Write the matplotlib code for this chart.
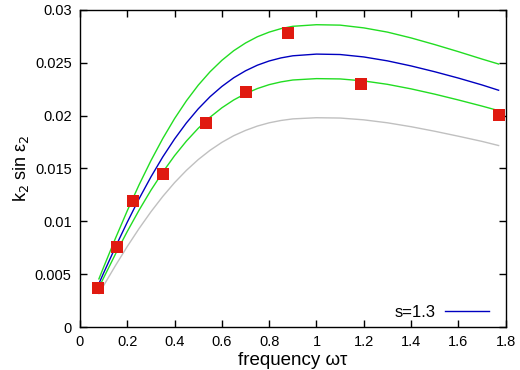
import matplotlib
matplotlib.use("Agg")
import matplotlib.pyplot as plt

plt.rcParams["font.family"] = ["Liberation Sans", "DejaVu Sans"]

# model curves
freq = [0.08, 0.1, 0.15, 0.2, 0.25, 0.3, 0.35, 0.4, 0.45, 0.5, 0.55, 0.6,
        0.65, 0.7, 0.75, 0.8, 0.85, 0.9, 1.0, 1.1, 1.2, 1.3, 1.4, 1.5,
        1.6, 1.7, 1.77]
blue = [0.00410, 0.00511, 0.00757, 0.00992, 0.01214, 0.01420, 0.01609,
        0.01779, 0.01931, 0.02064, 0.02179, 0.02276, 0.02358, 0.02424,
        0.02477, 0.02517, 0.02546, 0.02566, 0.02582, 0.02578, 0.02555,
        0.02518, 0.02470, 0.02415, 0.02355, 0.02290, 0.02240]
green_hi = [0.00455, 0.00566, 0.00839, 0.01100, 0.01346, 0.01574, 0.01783,
            0.01972, 0.02140, 0.02288, 0.02415, 0.02523, 0.02614, 0.02687,
            0.02746, 0.02790, 0.02823, 0.02845, 0.02860, 0.02856, 0.02830,
            0.02790, 0.02735, 0.02672, 0.02605, 0.02535, 0.02488]
green_lo = [0.00374, 0.00465, 0.00690, 0.00904, 0.01106, 0.01294, 0.01465,
            0.01621, 0.01759, 0.01880, 0.01985, 0.02074, 0.02148, 0.02208,
            0.02256, 0.02293, 0.02319, 0.02337, 0.02350, 0.02347, 0.02328,
            0.02296, 0.02253, 0.02203, 0.02148, 0.02090, 0.02047]
gray = [0.00315, 0.00392, 0.00581, 0.00762, 0.00932, 0.01090, 0.01235,
        0.01366, 0.01482, 0.01584, 0.01672, 0.01747, 0.01810, 0.01860,
        0.01901, 0.01932, 0.01954, 0.01969, 0.01980, 0.01977, 0.01960,
        0.01932, 0.01895, 0.01852, 0.01805, 0.01756, 0.01717]

# measured points
obs_x = [0.075, 0.158, 0.226, 0.350, 0.534, 0.702, 0.881, 1.189, 1.773]
obs_y = [0.0037, 0.00758, 0.0119, 0.01443, 0.01934, 0.0222, 0.02777, 0.0230, 0.02007]

fig = plt.figure(figsize=(5.2, 3.7), dpi=100)
ax = fig.add_axes([0.1538, 0.1162, 0.8187, 0.857])

ax.plot(freq, gray, color="#c0c0c0", lw=1.0)
ax.plot(freq, green_lo, color="#22dd22", lw=1.0)
ax.plot(freq, green_hi, color="#22dd22", lw=1.0)
ax.plot(freq, blue, color="#0000c0", lw=1.0, label="s=1.3")
ax.plot(obs_x, obs_y, "s", color="#e01a10", markersize=9, markeredgewidth=0)

ax.set_xlim(0, 1.8)
ax.set_ylim(0, 0.03)
ax.set_xticks([0, 0.2, 0.4, 0.6, 0.8, 1, 1.2, 1.4, 1.6, 1.8])
ax.set_xticklabels(["0", "0.2", "0.4", "0.6", "0.8", "1", "1.2", "1.4", "1.6", "1.8"])
ax.set_yticks([0, 0.005, 0.01, 0.015, 0.02, 0.025, 0.03])
ax.set_yticklabels(["0", "0.005", "0.01", "0.015", "0.02", "0.025", "0.03"])
ax.tick_params(direction="in", top=True, right=True, length=5, width=1,
               labelsize=10.5, pad=6)
for s in ax.spines.values():
    s.set_linewidth(1.0)

ax.set_xlabel("frequency ωτ", fontsize=13.5, labelpad=2)
ax.set_ylabel("k$_2$ sin ε$_2$", fontsize=13, labelpad=3)

ax.legend(loc="center right", bbox_to_anchor=(0.96, 0.045), frameon=False,
          fontsize=12, handlelength=2.6, handletextpad=0.6, markerfirst=False,
          borderaxespad=0, borderpad=0)

fig.savefig("out.png", dpi=100)
